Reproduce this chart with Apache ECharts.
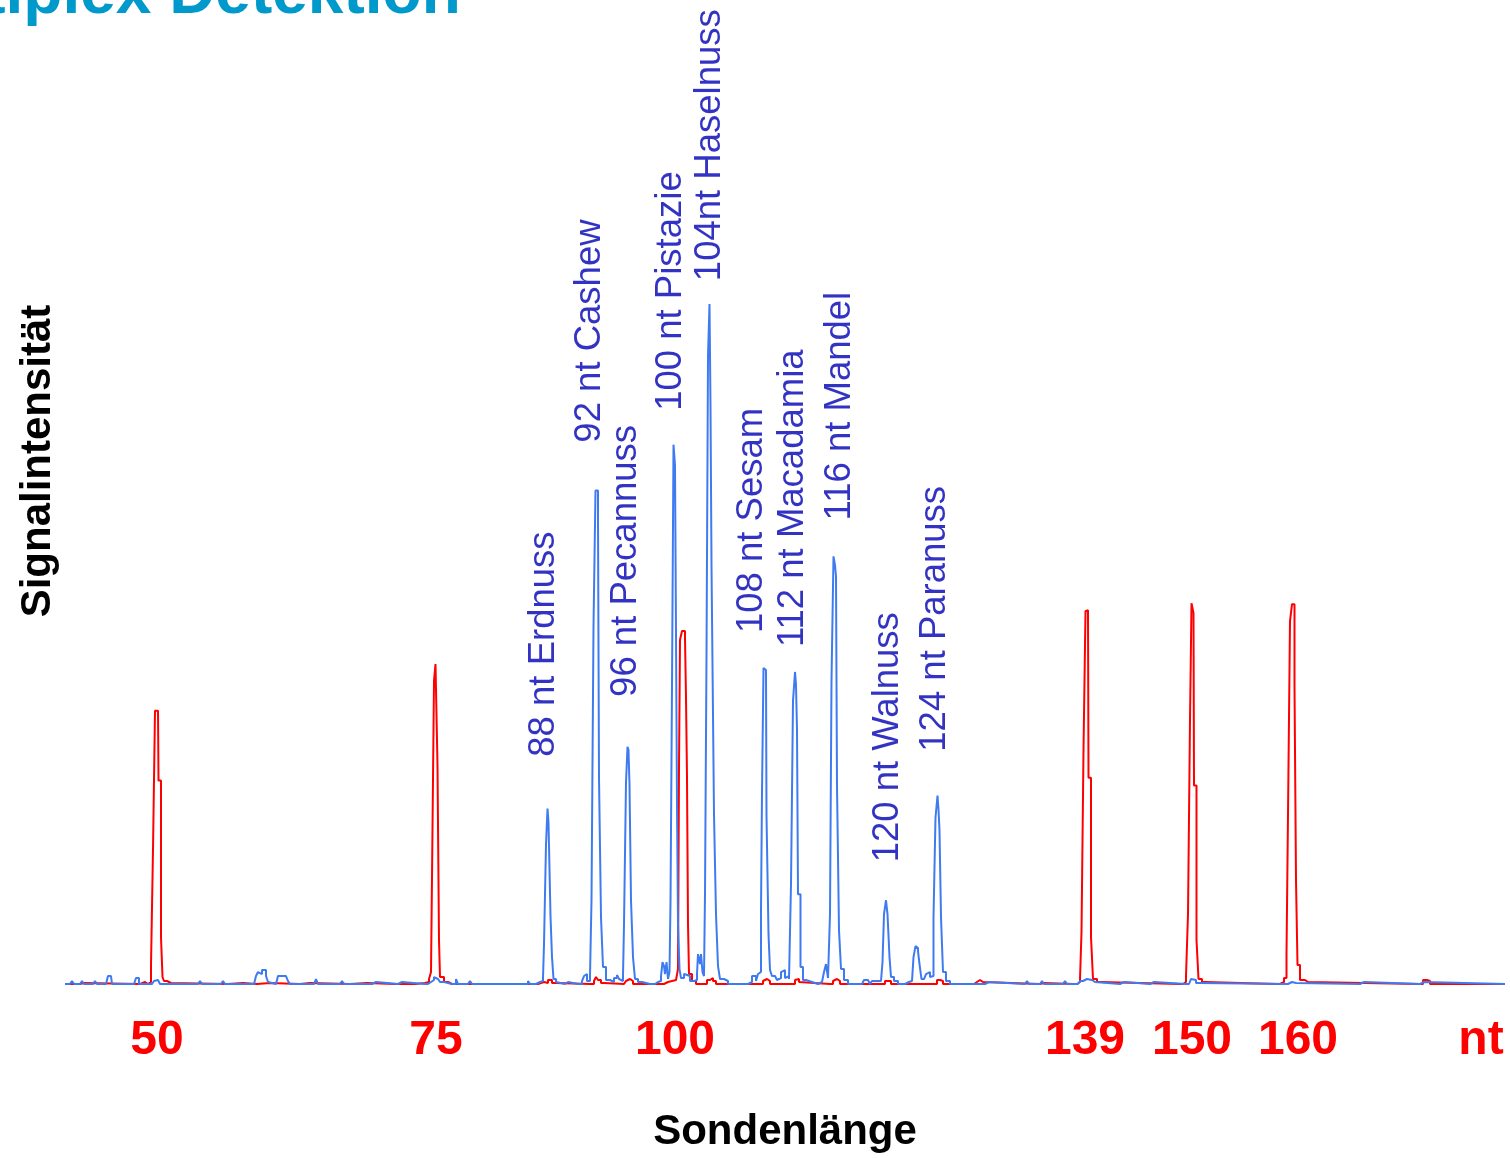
<!DOCTYPE html>
<html><head><meta charset="utf-8">
<script src="https://cdn.jsdelivr.net/npm/echarts@6/dist/echarts.min.js"></script>
<style>html,body{margin:0;padding:0;background:#fff}#c{width:1510px;height:1158px}</style>
</head><body><div id="c"></div>
<script>
const titleText = 'Multiplex Detektion';
const xAxisTitle = 'Sondenlänge';
const yAxisTitle = 'Signalintensität';
const tickScan = [157, 436, 675, 1085, 1192, 1298, 1481];
const tickLabels = ['50', '75', '100', '139', '150', '160', 'nt'];

const peakLabels = ['88 nt Erdnuss', '92 nt Cashew', '96 nt Pecannuss', '100 nt Pistazie', '104nt Haselnuss',
  '108 nt Sesam', '112 nt Macadamia', '116 nt Mandel', '120 nt Walnuss', '124 nt Paranuss'];
const peakLabelScan = [544, 590, 626, 671, 710, 752, 793, 840, 888, 935];
const peakLabelSignal = [228, 543, 288, 575, 705, 352, 338, 465, 122, 233];

const blueTrace = [[65,0],[70,0],[72,3],[74,0],[80,0],[82,3],[84,0],[93,0],[95,3],[97,0],[106,0],[108,8],[111,8],[112,0],
[134,0],[136,6],[138,6],[139,0],[152,0],[154,3],[156,4],[158,2],[160,0],[198,0],[200,3],[202,0],[221,0],[223,3],[225,0],
[254,0],[256,8],[258,12],[260,10],[262,14],[264,14],[266,8],[268,2],[270,0],[276,0],[278,8],[286,8],[288,3],[290,0],
[314,0],[316,5],[318,0],[340,0],[342,3],[344,0],[372,0],[374,2],[376,0],[398,0],[400,2],[402,0],
[425,0],[428,2],[431,4],[434,7],[436,5],[438,3],[440,2],[444,0],[452,0],[456,5],[458,0],[468,0],[470,3],[472,0],
[500,0],[504,2],[506,0],[525,0],[528,3],[530,0],[536,2],[540,3],[543,6],[544,40],[546,140],[547.5,176],[548.5,162],
[549.5,162],[550.5,68],[552,27],[553.5,5],[556,2],[558,0],[565,2],[568,0],[578,0],[582,3],[584,8],[586,10],[587,3],
[590,8],[591.5,84],[593.5,359],[595.5,495],[597,495],[598,465],[599,207],[601,67],[603,17],[606,4],[610,2],[614,6],
[617,9],[619,5],[621,3],[623,8],[624,60],[626,202],[627.5,238],[628.5,235],[629.5,200],[631,84],[633,27],[635,5],
[638,2],[642,0],[650,0],[655,2],[658,3],[661,8],[662.5,22],[664,18],[665,10],[666.5,22],[668,5],[669.5,12],
[670.5,82],[672,300],[673.5,541],[675,520],[676,350],[677,180],[678,60],[679.5,15],[681,6],[684,10],[686,8],[690,3],
[694,4],[697,10],[698,30],[700,20],[701,30],[702.5,12],[704,8],[705,90],[706.5,330],[708,630],[709.5,682],
[710.5,580],[711.5,420],[712.5,320],[714,170],[716,70],[718,18],[720,5],[724,3],[728,0],[740,0],[748,2],[752,8],
[754,8],[756,3],[758,10],[760,12],[761,74],[762,192],[763.5,317],[765,315],[766,310],[766.5,169],[768.5,50],[770,14],
[772,8],[775,10],[777,4],[779,6],[781,12],[783,14],[785,6],[787,8],[789,5],[791,100],[793,284],[795,313],[796,300],
[797,255],[798,90],[800.5,17],[803,4],[806,2],[812,0],[818,2],[822,3],[824,12],[826,20],[828,6],[830,70],[831.5,305],
[833.5,429],[835,420],[836,409],[837,199],[839,54],[841,15],[844,4],[848,0],[862,0],[864,4],[868,4],[870,0],[872,3],
[876,4],[878,3],[881,5],[882.5,22],[884,70],[886,84],[887.5,70],[889.5,27],[891,7],[894,3],[898,0],[905,2],[909,3],
[912,5],[913.5,27],[915.5,38],[917,36],[918,33],[919.5,20],[921.5,5],[924,3],[926,10],[928,12],[930,7],[932,8],
[933.5,67],[935.5,167],[937.5,189],[938.5,175],[939.5,154],[941,67],[943,12],[946,3],[950,0],[985,0],[987,2],[989,0],
[1025,0],[1027,3],[1029,0],[1040,0],[1042,3],[1044,0],[1063,0],[1065,3],[1067,0],[1078,0],[1080,3],[1083,2],[1085,5],
[1087,7],[1089,4],[1092,2],[1095,0],[1120,0],[1122,2],[1124,0],[1150,0],[1152,2],[1154,0],[1186,0],[1189,2],[1191,5],
[1193,4],[1196,1],[1199,0],[1288,0],[1290,2],[1292,3],[1294,1],[1296,0],[1360,0],[1362,2],[1364,0],[1420,0],[1422,2],
[1424,0],[1505,0]];

const redTrace = [[65,0],[80,0],[82,1],[84,0],[140,0],[142,2],[145,2],[147,0],[148,2],[150,2],[151,19],[153,135],
[155,274],[158,275],[158.5,204],[161,47],[162.5,7],[164,3],[167,3],[169,1],[171,2],[173,0],[228,0],[230,1],[243,1],
[245,0],[257,0],[258,1],[270,1],[272,0],[300,0],[302,1],[310,1],[312,0],[350,0],[352,1],[367,1],[369,0],[395,0],
[398,1],[400,0],[405,0],[415,1],[425,2],[429,5],[431,12],[432,107],[434,304],[435.5,321],[437,321],[437.5,219],
[439,44],[440,7],[444,2],[448,0],[452,2],[454,0],[538,0],[540,2],[544,1],[548,4],[552,1],[556,0],[590,0],[594,3],
[596,7],[598,4],[601,1],[604,0],[624,0],[626,3],[628,5],[630,3],[633,0],[660,0],[664,2],[668,3],[672,4],[676,6],
[678,15],[679,217],[680,345],[682,354],[684,354],[685,347],[686,287],[687,207],[688,60],[689,10],[692,3],[696,0],
[704,0],[707,4],[710,6],[713,3],[716,0],[760,0],[763,3],[765,5],[767,3],[770,0],[792,0],[795,4],[797,5],[799,2],
[801,0],[830,0],[833,3],[835,5],[837,3],[840,0],[882,0],[885,3],[888,3],[891,0],[934,0],[937,4],[940,3],[943,0],
[970,0],[974,2],[977,4],[980,2],[983,0],[1040,0],[1042,1],[1044,0],[1074,0],[1077,2],[1080,5],[1081.5,52],
[1083.5,235],[1085.5,374],[1087,375],[1088,369],[1088.5,207],[1091,47],[1093,5],[1097,2],[1100,0],[1180,0],[1183,2],
[1186,8],[1188,70],[1190,265],[1191.5,382],[1192.5,384],[1193.5,372],[1194,199],[1196.5,44],[1198.5,5],[1202,2],
[1205,0],[1277,0],[1280,2],[1284,6],[1286.5,30],[1288,170],[1290,364],[1292,381],[1293.5,381],[1294.5,299],[1296,104],
[1297.5,19],[1300,4],[1305,2],[1308,0],[1420,0],[1423,4],[1427,3],[1430,0],[1505,0]];

const FONT = '"Liberation Sans", Arial, sans-serif';
const chart = echarts.init(document.getElementById('c'));
chart.setOption({
  animation: false,
  backgroundColor: '#ffffff',
  grid: { left: 65, right: 5, top: 0, bottom: 171 },
  graphic: [{
    type: 'text', x: -126, y: -5,
    style: { text: titleText, fill: '#0099CC', fontSize: 64, fontWeight: 'bold', fontFamily: FONT,
      align: 'left', verticalAlign: 'middle' }
  }],
  xAxis: {
    type: 'value', min: 65, max: 1505,
    axisLine: { show: false }, axisTick: { show: false }, splitLine: { show: false },
    axisLabel: {
      customValues: tickScan,
      formatter: v => tickLabels[tickScan.indexOf(v)],
      color: '#FF0000', fontSize: 48, fontWeight: 'bold', fontFamily: FONT, margin: 33
    },
    name: xAxisTitle, nameLocation: 'middle', nameGap: 127,
    nameTextStyle: { fontSize: 42, fontWeight: 'bold', color: '#000', fontFamily: FONT }
  },
  yAxis: {
    type: 'value', min: 0, max: 987,
    axisLine: { show: false }, axisTick: { show: false }, splitLine: { show: false },
    axisLabel: { show: false },
    name: yAxisTitle, nameLocation: 'middle', nameRotate: 90, nameGap: 6,
    nameTextStyle: { fontSize: 42, fontWeight: 'bold', color: '#000', fontFamily: FONT, padding: [0, 0, 0, 62] }
  },
  series: [
    { type: 'line', data: redTrace, symbol: 'none', z: 2, step: 'end',
      lineStyle: { color: '#FF0000', width: 2 } },
    { type: 'line', data: blueTrace, symbol: 'none', z: 3, step: 'end',
      lineStyle: { color: '#3F7BF0', width: 2 } },
    { type: 'scatter', symbolSize: 0, z: 4, silent: true,
      data: peakLabels.map((n, i) => ({ name: n, value: [peakLabelScan[i], peakLabelSignal[i]] })),
      label: { show: true, formatter: '{b}', rotate: 90, position: [0, 0], align: 'left', verticalAlign: 'middle',
        color: '#0000B4', fontSize: 36.5, fontFamily: FONT } }
  ]
});
</script></body></html>
